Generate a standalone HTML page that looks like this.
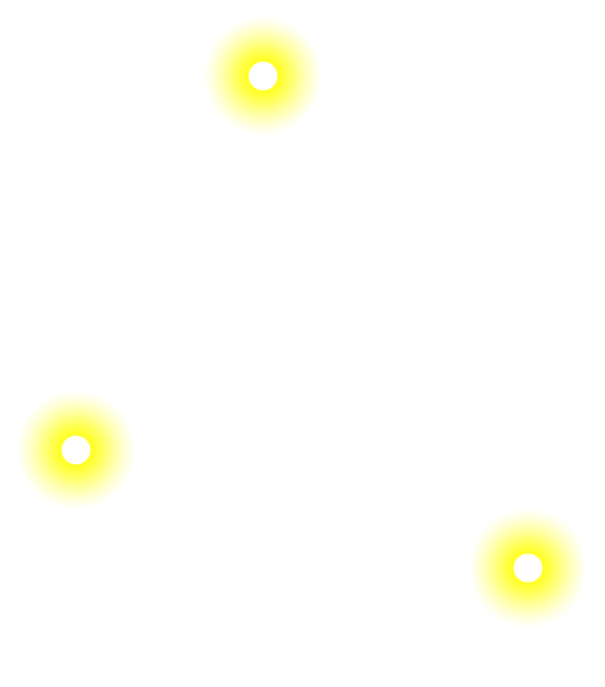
<!DOCTYPE html>
<html><head><meta charset="utf-8"><style>
html,body{margin:0;padding:0;background:#fff;width:605px;height:687px;overflow:hidden}
.g{position:absolute;width:120px;height:120px;border-radius:50%;
background:radial-gradient(circle closest-side,#fff 0,#fff 23%,#ffff20 25%,#ffff50 40%,#ffffa8 65%,#ffffe8 88%,rgba(255,255,255,0) 100%)}
</style></head><body>
<div class="g" style="left:203px;top:16px"></div>
<div class="g" style="left:16px;top:390px"></div>
<div class="g" style="left:468px;top:508px"></div>
</body></html>
